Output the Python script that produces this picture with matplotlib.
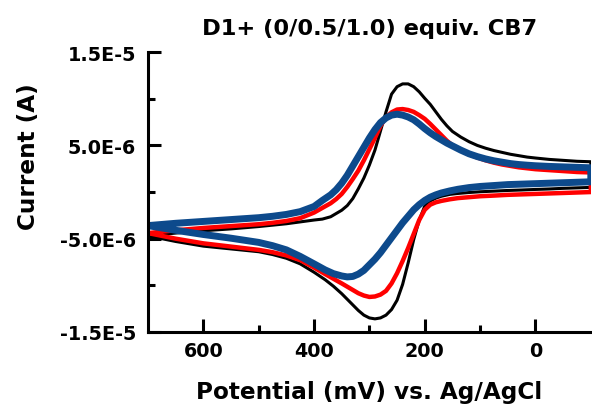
import numpy as np
import matplotlib
matplotlib.use('Agg')
import matplotlib.pyplot as plt
from matplotlib.ticker import FixedLocator

plt.rcParams['font.family'] = ['DejaVu Sans']
plt.rcParams['font.weight'] = 'bold'

# potential grids (mV): forward scan 700 -> -100, reverse scan -100 -> 700
e_fwd = [700, 650, 600, 550, 500, 475, 450, 425, 400, 385, 370, 360, 350, 340, 330, 320, 310,
         300, 290, 280, 270, 260, 250, 240, 230, 220, 210, 200, 190, 180, 170, 160, 150, 135,
         120, 105, 90, 75, 60, 45, 30, 15, 0, -25, -50, -75, -100]
e_rev = [-100, -75, -50, -25, 0, 25, 50, 75, 100, 120, 140, 155, 170, 180, 190, 200, 210, 220,
         230, 240, 250, 260, 270, 280, 290, 300, 310, 320, 330, 340, 350, 365, 380, 400, 425,
         450, 475, 500, 550, 600, 650, 700]

# currents in uA
# 0 equiv. CB7 (black)
i0_fwd = [-4.7, -4.4, -4.15, -3.95, -3.7, -3.55, -3.4, -3.2, -3.0, -2.9, -2.65, -2.3, -1.95, -1.45,
          -0.7, 0.35, 1.5, 2.9, 4.5, 6.55, 8.6, 10.5, 11.3, 11.6, 11.6, 11.3, 10.75, 10.05, 9.4, 8.6,
          7.8, 7.1, 6.5, 5.9, 5.4, 5.0, 4.7, 4.45, 4.25, 4.05, 3.9, 3.75, 3.65, 3.5, 3.4, 3.3, 3.25]
i0_rev = [0.5, 0.45, 0.4, 0.33, 0.28, 0.22, 0.17, 0.1, 0.03, -0.05, -0.15, -0.25, -0.45, -0.65,
          -0.95, -1.5, -3.0, -5.1, -7.6, -9.9, -11.6, -12.6, -13.2, -13.5, -13.6, -13.5, -13.2,
          -12.7, -12.1, -11.5, -10.9, -10.1, -9.4, -8.6, -7.7, -7.1, -6.7, -6.4, -6.1, -5.8, -5.3, -4.7]
# 0.5 equiv. CB7 (red)
i05_fwd = [-4.4, -4.1, -3.85, -3.65, -3.45, -3.3, -3.1, -2.8, -2.2, -1.7, -1.2, -0.75, -0.2, 0.55,
           1.4, 2.3, 3.4, 4.6, 5.8, 7.1, 8.0, 8.55, 8.85, 8.9, 8.8, 8.6, 8.25, 7.85, 7.3, 6.7, 6.1,
           5.5, 5.0, 4.45, 4.05, 3.7, 3.4, 3.15, 2.95, 2.8, 2.65, 2.55, 2.45, 2.35, 2.25, 2.15, 2.1]
i05_rev = [0.0, -0.05, -0.1, -0.15, -0.2, -0.25, -0.3, -0.38, -0.45, -0.55, -0.65, -0.78, -0.95,
           -1.1, -1.35, -1.9, -3.0, -4.5, -6.0, -7.4, -8.7, -9.8, -10.6, -11.0, -11.2, -11.25, -11.1,
           -10.85, -10.5, -10.15, -9.8, -9.3, -8.8, -8.1, -7.3, -6.8, -6.45, -6.2, -5.85, -5.5, -5.0, -4.4]
# 1.0 equiv. CB7 (blue)
i10_fwd = [-3.6, -3.35, -3.15, -2.95, -2.75, -2.6, -2.4, -2.1, -1.55, -0.9, -0.3, 0.25, 0.95, 1.8,
           2.8, 3.8, 4.8, 5.8, 6.7, 7.45, 7.95, 8.25, 8.35, 8.25, 8.05, 7.75, 7.3, 6.8, 6.35, 5.95, 5.6,
           5.25, 4.95, 4.5, 4.1, 3.8, 3.55, 3.35, 3.2, 3.05, 2.95, 2.88, 2.82, 2.75, 2.7, 2.65, 2.6]
i10_rev = [1.1, 1.05, 1.0, 0.95, 0.9, 0.85, 0.8, 0.7, 0.6, 0.48, 0.3, 0.12, -0.1, -0.3, -0.55,
           -0.9, -1.35, -1.9, -2.6, -3.3, -4.1, -4.9, -5.7, -6.5, -7.2, -7.8, -8.4, -8.8, -9.05,
           -9.1, -9.0, -8.75, -8.35, -7.7, -6.9, -6.2, -5.75, -5.4, -4.95, -4.55, -4.1, -3.6]

xticks = [600, 400, 200, 0]
xticks_minor = [500, 300, 100]
yticks = [1.5e-5, 5e-6, -5e-6, -1.5e-5]
ytick_labels = ['1.5E-5', '5.0E-6', '-5.0E-6', '-1.5E-5']
yticks_minor = [1e-5, 0, -1e-5]

fig = plt.figure(figsize=(5.92, 4.06), dpi=100)
ax = fig.add_axes([0.25, 0.18, 0.748, 0.689])

curves = [(i0_fwd, i0_rev, 'black', 2.2),
          (i05_fwd, i05_rev, '#ff0000', 3.2),
          (i10_fwd, i10_rev, '#0d4a8c', 5.0)]
for fwd, rev, color, lw in curves:
    e = np.array(e_fwd + e_rev)
    i = np.array(fwd + rev) * 1e-6
    ax.plot(e, i, color=color, lw=lw, solid_capstyle='round', solid_joinstyle='round')

ax.set_xlim(700, -100)
ax.set_ylim(-1.5e-5, 1.5e-5)

ax.xaxis.set_major_locator(FixedLocator(xticks))
ax.xaxis.set_minor_locator(FixedLocator(xticks_minor))
ax.set_xticklabels([str(t) for t in xticks])
ax.yaxis.set_major_locator(FixedLocator(yticks))
ax.yaxis.set_minor_locator(FixedLocator(yticks_minor))
ax.set_yticklabels(ytick_labels)

for s in ['top', 'right']:
    ax.spines[s].set_visible(False)
for s in ['left', 'bottom']:
    ax.spines[s].set_linewidth(2.2)

ax.tick_params(which='major', direction='in', length=9.5, width=2.2, labelsize=13.8)
ax.tick_params(which='minor', direction='in', length=5, width=2.2)
ax.tick_params(axis='y', which='major', pad=8.6)
ax.tick_params(axis='x', which='major', pad=6.5)

ax.set_xlabel('Potential (mV) vs. Ag/AgCl', fontsize=16.7, fontweight='bold')
ax.xaxis.set_label_coords(0.5, -0.171)
ax.set_ylabel('Current (A)', fontsize=16.7, fontweight='bold')
ax.yaxis.set_label_coords(-0.245, 0.629)
ax.set_title('D1+ (0/0.5/1.0) equiv. CB7', fontsize=16.2, fontweight='bold', pad=13)

fig.savefig('out.png', dpi=100)
